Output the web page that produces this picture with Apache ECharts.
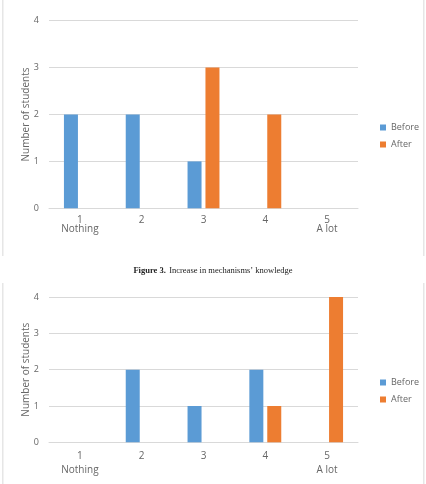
<!DOCTYPE html>
<html lang="en">
<head>
    <meta charset="UTF-8">
    <title>Knowledge before / after</title>
</head>
<body style="margin:0;background:#fff">

<div id="main" style="width:426px;height:484px"></div>

<script type="text/javascript" src="https://cdn.jsdelivr.net/npm/echarts@6/dist/echarts.min.js"></script>
<script type="text/javascript">
    var categories = ['1', '2', '3', '4', '5']
    var yTicks = [0, 1, 2, 3, 4]
    // top chart
    var topBefore = [2, 2, 1, 0, 0]
    var topAfter = [0, 0, 3, 2, 0]
    // bottom chart (Figure 3)
    var botBefore = [0, 2, 1, 2, 0]
    var botAfter = [0, 0, 0, 1, 4]
    var caption = 'Increase in mechanisms\u2019 knowledge'

    var blue = '#5B9BD5', orange = '#ED7D31'
    var txt = '#666666', grid = '#d9d9d9'

    var dom = document.getElementById('main')
    var myChart = echarts.init(dom)

    function xAxisFor(idx, lh) {
        return {
            type: 'category',
            gridIndex: idx,
            data: categories,
            axisTick: {show: false},
            axisLine: {lineStyle: {color: grid}},
            axisLabel: {
                color: txt,
                fontSize: 10,
                fontFamily: 'Open Sans',
                margin: 7,
                lineHeight: lh,
                formatter: function (v) {
                    if (v === '1') return '1\nNothing'
                    if (v === '5') return '5\nA lot'
                    return v
                }
            }
        }
    }

    function yAxisFor(idx) {
        return {
            type: 'value',
            gridIndex: idx,
            min: yTicks[0],
            max: yTicks[yTicks.length - 1],
            interval: 1,
            name: 'Number of students',
            nameLocation: 'middle',
            nameGap: 18,
            nameMoveOverlap: false,
            nameTextStyle: {color: txt, fontSize: 10, fontFamily: 'Open Sans'},
            axisLabel: {color: txt, fontSize: 9, fontFamily: 'Open Sans', margin: 10},
            splitLine: {lineStyle: {color: grid}}
        }
    }

    function barSeries(name, data, idx, color) {
        return {
            name: name,
            type: 'bar',
            xAxisIndex: idx,
            yAxisIndex: idx,
            data: data,
            barWidth: 14,
            barGap: '28%',
            itemStyle: {color: color}
        }
    }

    var legendBase = {
        orient: 'vertical',
        left: 375,
        itemWidth: 6,
        itemHeight: 6,
        itemGap: 8,
        icon: 'rect',
        textStyle: {color: txt, fontSize: 9, fontFamily: 'Open Sans'},
        data: ['Before', 'After']
    }

    var option = {
        animation: false,
        grid: [
            {left: 49, width: 309, top: 20.7, height: 187.6},
            {left: 49, width: 309, top: 297, height: 145.3}
        ],
        xAxis: [xAxisFor(0, 9), xAxisFor(1, 14)],
        yAxis: [yAxisFor(0), yAxisFor(1)],
        legend: [
            Object.assign({top: 118}, legendBase),
            Object.assign({top: 373}, legendBase)
        ],
        series: [
            barSeries('Before', topBefore, 0, blue),
            barSeries('After', topAfter, 0, orange),
            barSeries('Before', botBefore, 1, blue),
            barSeries('After', botAfter, 1, orange)
        ],
        graphic: [
            // box edges of the scanned figures
            {type: 'rect', shape: {x: 2, y: 0, width: 1.5, height: 256}, style: {fill: '#e6e6e6'}},
            {type: 'rect', shape: {x: 423, y: 0, width: 1.5, height: 256}, style: {fill: '#e6e6e6'}},
            {type: 'rect', shape: {x: 2, y: 283, width: 1.5, height: 201}, style: {fill: '#e6e6e6'}},
            {type: 'rect', shape: {x: 423, y: 283, width: 1.5, height: 201}, style: {fill: '#e6e6e6'}},
            {
                type: 'text',
                left: 'center',
                top: 265,
                style: {
                    rich: {
                        b: {fontWeight: 'bold', fontSize: 8.5, fontFamily: 'Liberation Serif', fill: '#222'},
                        n: {fontSize: 8.5, fontFamily: 'Liberation Serif', fill: '#222'}
                    },
                    text: '{b|Figure 3.} {n|' + caption + '}'
                }
            }
        ]
    }

    if (option && typeof option === 'object') {
        myChart.setOption(option);
    }
</script>
</body>
</html>
